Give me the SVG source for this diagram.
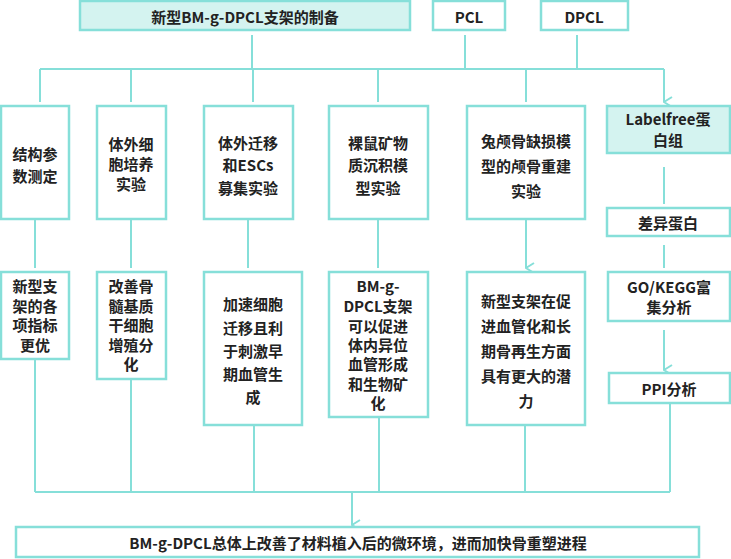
<svg xmlns="http://www.w3.org/2000/svg" width="731" height="559" viewBox="0 0 731 559">
<style>
.b{fill:#fff;stroke:#86dfd9;stroke-width:2.5}
.h{fill:#d4f3f0;stroke:#86dfd9;stroke-width:2.5}
text{font-family:"Noto Sans CJK SC","Noto Sans",sans-serif;font-size:15px;font-weight:bold;fill:#222;text-anchor:middle;dominant-baseline:central}
.c path{fill:none;stroke:#86dfd9;stroke-width:2}
</style>
<defs><marker id="a" viewBox="0 0 12 10" refX="6" refY="9" markerWidth="12" markerHeight="10" markerUnits="userSpaceOnUse" orient="auto-start-reverse"><path d="M1,1 L6,9 L11,1" fill="none" stroke="#86dfd9" stroke-width="2"/></marker></defs>
<g class="c">
<path d="M252,35V69M465,35V69M577,35V69M40,69H664"/>
<path d="M40,69V102M131,69V102M253,69V102M378,69V102M526,69V102M664,69V102" marker-end="url(#a)"/>
<path d="M35,219V268M131,219V268M248,219V268M378,219V268M526,219V268" marker-end="url(#a)"/>
<path d="M664,167V204M664,245V268M664,330V370" marker-end="url(#a)"/>
<path d="M35,359V492M131,379V492M254,425V492M379,417V492M525,425V492M670,403V492M35,492H670"/>
<path d="M352,492V525" marker-end="url(#a)"/>
</g>
<g id="top"><rect class="h" x="80" y="1" width="330" height="29"/><text x="245" y="16" font-size="15.5">新型BM-g-DPCL支架的制备</text></g>
<g id="pcl"><rect class="b" x="433" y="1" width="72" height="29"/><text x="469" y="16">PCL</text></g>
<g id="dpcl"><rect class="b" x="541" y="1" width="87" height="29"/><text x="584" y="16">DPCL</text></g>
<g id="n1"><rect class="b" x="1" y="106" width="68" height="113"/><text x="35" y="153">结构参</text><text x="35" y="175">数测定</text></g>
<g id="n2"><rect class="b" x="97" y="106" width="69" height="113"/><text x="131" y="143">体外细</text><text x="131" y="163">胞培养</text><text x="131" y="183">实验</text></g>
<g id="n3"><rect class="b" x="204" y="106" width="89" height="113"/><text x="248" y="142">体外迁移</text><text x="248" y="164">和ESCs</text><text x="248" y="187">募集实验</text></g>
<g id="n4"><rect class="b" x="329" y="106" width="99" height="113"/><text x="378" y="142">裸鼠矿物</text><text x="378" y="164">质沉积模</text><text x="378" y="187">型实验</text></g>
<g id="n5"><rect class="b" x="467" y="106" width="118" height="113"/><text x="526" y="140">兔颅骨缺损模</text><text x="526" y="165">型的颅骨重建</text><text x="526" y="190">实验</text></g>
<g id="n6"><rect class="h" x="607" y="106" width="123" height="47"/><text x="668" y="118">Labelfree蛋</text><text x="668" y="139">白组</text></g>
<g id="n7"><rect class="b" x="607" y="208" width="123" height="28"/><text x="668" y="222">差异蛋白</text></g>
<g id="m1"><rect class="b" x="1" y="272" width="68" height="87"/><text x="35" y="285">新型支</text><text x="35" y="305">架的各</text><text x="35" y="324">项指标</text><text x="35" y="344">更优</text></g>
<g id="m2"><rect class="b" x="97" y="272" width="69" height="107"/><text x="131" y="285">改善骨</text><text x="131" y="305">髓基质</text><text x="131" y="324">干细胞</text><text x="131" y="344">增殖分</text><text x="131" y="363">化</text></g>
<g id="m3"><rect class="b" x="204" y="272" width="98" height="153"/><text x="253" y="303">加速细胞</text><text x="253" y="327">迁移且利</text><text x="253" y="350">于刺激早</text><text x="253" y="373">期血管生</text><text x="253" y="396">成</text></g>
<g id="m4"><rect class="b" x="329" y="272" width="99" height="145"/><text x="378" y="285">BM-g-</text><text x="378" y="305">DPCL支架</text><text x="378" y="325">可以促进</text><text x="378" y="344">体内异位</text><text x="378" y="363">血管形成</text><text x="378" y="383">和生物矿</text><text x="378" y="402">化</text></g>
<g id="m5"><rect class="b" x="467" y="272" width="118" height="153"/><text x="526" y="300">新型支架在促</text><text x="526" y="325">进血管化和长</text><text x="526" y="350">期骨再生方面</text><text x="526" y="375">具有更大的潜</text><text x="526" y="400">力</text></g>
<g id="m6"><rect class="b" x="608" y="272" width="122" height="49"/><text x="669" y="286">GO/KEGG富</text><text x="669" y="306">集分析</text></g>
<g id="m7"><rect class="b" x="609" y="373" width="121" height="30"/><text x="669" y="388">PPI分析</text></g>
<g id="bottom"><rect class="b" x="16" y="527" width="683" height="30"/><text x="358" y="542">BM-g-DPCL总体上改善了材料植入后的微环境，进而加快骨重塑进程</text></g>
</svg>
